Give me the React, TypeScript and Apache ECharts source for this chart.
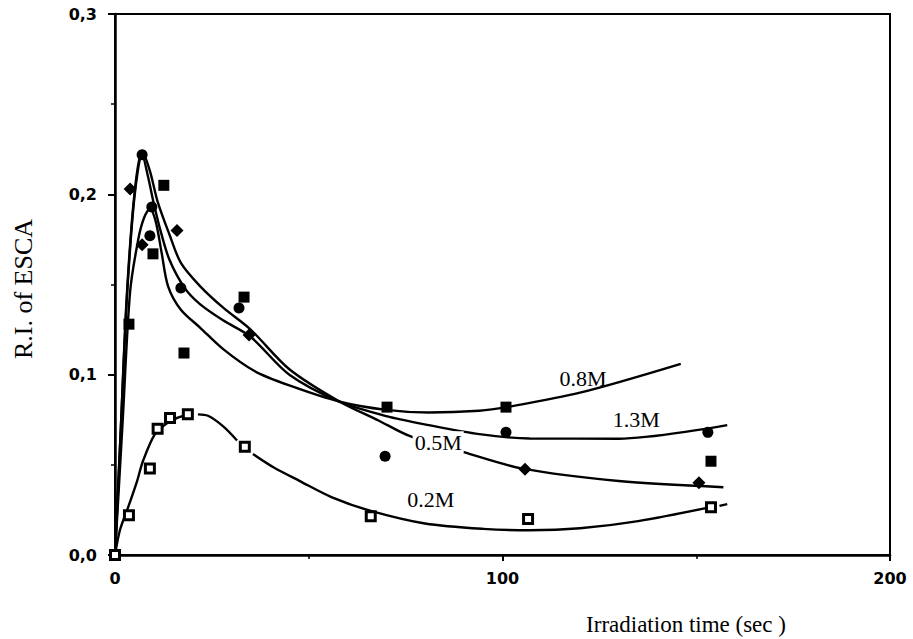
import React, { useEffect, useRef } from "react";
import * as echarts from "echarts";

// Fitted curves of relative ESCA intensity vs irradiation time, per concentration.
// "-" marks a break in a curve (the line is interrupted around markers).
const curve02: (number | string)[][] = [
  [0, 0], [1.3, 0.014], [3.4, 0.0265], [5.7, 0.041], [7.2, 0.052], [10.3, 0.067],
  [13.4, 0.073], [16, 0.076], [17.6, 0.0772], [19.5, "-"],
  [21.4, 0.078], [24, 0.0772], [28, 0.0712], [31.5, 0.0635], [33.5, "-"],
  [35.6, 0.056], [41, 0.0485], [47.7, 0.041], [56, 0.032], [66, 0.0245], [80, 0.0175],
  [95, 0.0145], [107, 0.0137], [120, 0.0148], [135, 0.0188], [152.5, 0.026], [154.5, "-"],
  [156, 0.0272], [158, 0.0282],
];
const curve05: number[][] = [
  [0, 0], [1.5, 0.07], [3, 0.142], [5, 0.2], [7, 0.224], [9, 0.213], [11, 0.196],
  [14, 0.178], [17, 0.162], [22, 0.149], [28, 0.137], [35, 0.125], [45, 0.103],
  [58, 0.085], [68, 0.0746], [76, 0.066], [90, 0.057], [105, 0.048], [130, 0.041],
  [157, 0.0376],
];
const curve08: number[][] = [
  [0, 0], [2, 0.075], [3.9, 0.146], [6, 0.175], [7.5, 0.187], [9, 0.192], [10.5, 0.185],
  [12, 0.168], [13.7, 0.149], [17, 0.136], [22, 0.126], [28, 0.114], [36, 0.102],
  [45, 0.094], [58, 0.085], [70, 0.0805], [81, 0.079], [94, 0.08], [101, 0.082],
  [120, 0.09], [146, 0.106],
];
const curve13: number[][] = [
  [0, 0], [1.5, 0.07], [3, 0.14], [5, 0.198], [7, 0.222], [8.5, 0.21], [10, 0.195],
  [11.6, 0.181], [14, 0.164], [18, 0.148], [22, 0.139], [28, 0.13], [35, 0.121],
  [45, 0.1], [58, 0.085], [70, 0.077], [81, 0.072], [94, 0.067], [107, 0.0646],
  [130, 0.0645], [158, 0.072],
];

// Measured points
const points02: number[][] = [
  [0, 0], [3.6, 0.022], [9, 0.048], [11, 0.07], [14.2, 0.076], [18.8, 0.078],
  [33.5, 0.06], [66, 0.0215], [106.6, 0.02], [153.8, 0.0265],
];
const points05: number[][] = [
  [3.9, 0.203], [7, 0.172], [16, 0.18], [34.6, 0.122], [105.8, 0.0475], [150.7, 0.04],
];
const points08: number[][] = [
  [3.6, 0.128], [9.8, 0.167], [12.6, 0.205], [17.8, 0.112], [33.3, 0.143],
  [70.2, 0.082], [100.9, 0.082], [153.8, 0.052],
];
const points13: number[][] = [
  [7, 0.222], [9.5, 0.193], [9, 0.177], [17, 0.148], [32, 0.137],
  [69.7, 0.0547], [100.9, 0.068], [153, 0.068],
];

// Curve labels: text and anchor in data coordinates
const curveLabels = [
  { text: "0.8M", at: [120.8, 0.098], knockout: false },
  { text: "1.3M", at: [134.5, 0.075], knockout: false },
  { text: "0.5M", at: [83.4, 0.0625], knockout: true },
  { text: "0.2M", at: [81.5, 0.031], knockout: false },
];

const xTicks = { min: 0, max: 200, interval: 100 };
const yTicks = { min: 0, max: 0.3, interval: 0.1 };

const SERIF = "'Liberation Serif', 'DejaVu Serif', serif";
const SANS = "'DejaVu Sans', 'Liberation Sans', sans-serif";

function curveSeries(name: string, data: any[], labelIdx: number) {
  const lab = curveLabels[labelIdx];
  return {
    name,
    type: "line",
    data,
    smooth: 0.3,
    showSymbol: false,
    connectNulls: false,
    lineStyle: { color: "#000", width: 2.4 },
    z: 2,
    markPoint: {
      symbol: "rect",
      symbolSize: 0,
      z: 5,
      data: [
        {
          coord: lab.at,
          label: {
            show: true,
            position: "inside",
            formatter: lab.text,
            color: "#000",
            fontFamily: SERIF,
            fontSize: 22,
            backgroundColor: lab.knockout ? "#fff" : "transparent",
            padding: [0, 2],
          },
        },
      ],
    },
  };
}

const markerStyle = { color: "#000", opacity: 1 };

export default function App() {
  const ref = useRef<HTMLDivElement>(null);

  useEffect(() => {
    if (!ref.current) return;
    const chart = echarts.init(ref.current, undefined, { renderer: "svg" });
    chart.setOption({
      animation: false,
      backgroundColor: "#fff",
      grid: {
        left: 115,
        right: 23,
        top: 14,
        bottom: 84,
        show: true,
        borderColor: "#000",
        borderWidth: 2,
      },
      xAxis: {
        type: "value",
        ...xTicks,
        axisLine: { lineStyle: { color: "#000", width: 2.5 } },
        axisTick: { show: true, length: 6, lineStyle: { color: "#000", width: 2 } },
        minorTick: { show: true, splitNumber: 2, length: 4, lineStyle: { color: "#000", width: 1.5 } },
        splitLine: { show: false },
        axisLabel: {
          margin: 15,
          color: "#000",
          fontFamily: SANS,
          fontWeight: "bold",
          fontSize: 16,
        },
      },
      yAxis: {
        type: "value",
        ...yTicks,
        axisLine: { lineStyle: { color: "#000", width: 2.5 } },
        axisTick: { show: true, length: 7, lineStyle: { color: "#000", width: 2 } },
        minorTick: { show: true, splitNumber: 2, length: 4, lineStyle: { color: "#000", width: 1.5 } },
        splitLine: { show: false },
        axisLabel: {
          margin: 18,
          color: "#000",
          fontFamily: SANS,
          fontWeight: "bold",
          fontSize: 16,
          formatter: (v: number) => v.toFixed(1).replace(".", ","),
        },
      },
      graphic: [
        {
          type: "text",
          x: 23,
          y: 289,
          rotation: Math.PI / 2,
          style: {
            text: "R.I. of ESCA",
            fill: "#000",
            font: `26px ${SERIF}`,
            align: "center",
            verticalAlign: "middle",
          },
        },
        {
          type: "text",
          x: 686,
          y: 624,
          style: {
            text: "Irradiation time (sec )",
            fill: "#000",
            font: `23px ${SERIF}`,
            align: "center",
            verticalAlign: "middle",
          },
        },
      ],
      series: [
        curveSeries("0.2M", curve02, 3),
        curveSeries("0.5M", curve05, 2),
        curveSeries("0.8M", curve08, 0),
        curveSeries("1.3M", curve13, 1),
        {
          name: "0.2M pts",
          type: "scatter",
          data: points02,
          symbol: "rect",
          symbolSize: 9,
          itemStyle: { color: "#fff", borderColor: "#000", borderWidth: 3, opacity: 1 },
          z: 4,
        },
        {
          name: "0.5M pts",
          type: "scatter",
          data: points05,
          symbol: "diamond",
          symbolSize: 13,
          itemStyle: markerStyle,
          z: 4,
        },
        {
          name: "0.8M pts",
          type: "scatter",
          data: points08,
          symbol: "rect",
          symbolSize: 11,
          itemStyle: markerStyle,
          z: 4,
        },
        {
          name: "1.3M pts",
          type: "scatter",
          data: points13,
          symbol: "circle",
          symbolSize: 11,
          itemStyle: markerStyle,
          z: 4,
        },
      ],
    });
    return () => chart.dispose();
  }, []);

  return (
    <div
      ref={ref}
      style={{ position: "fixed", left: 0, top: 0, width: 913, height: 639, background: "#fff" }}
    />
  );
}
